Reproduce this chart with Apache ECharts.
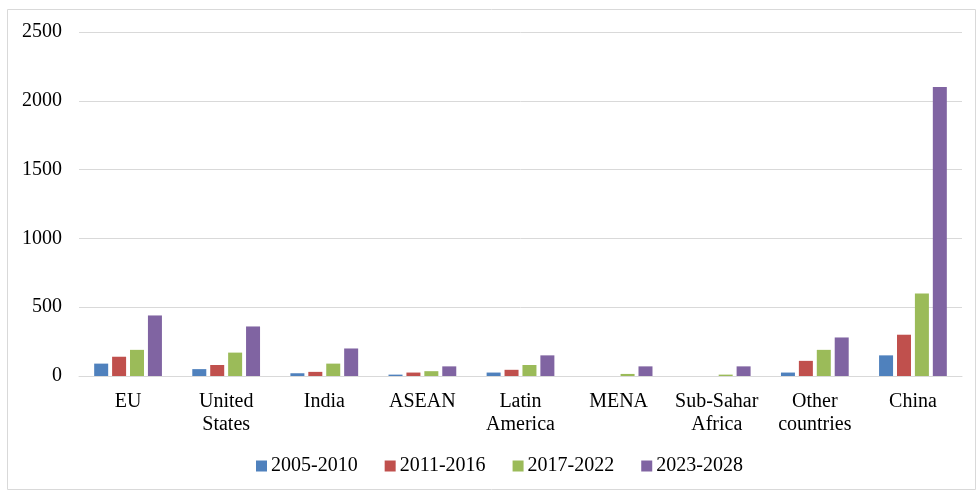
<!DOCTYPE html>
<html>
<head>
<meta charset="utf-8">
<script src="https://cdn.jsdelivr.net/npm/echarts@6/dist/echarts.min.js"></script>
<style>
  html, body { margin: 0; padding: 0; background: #fff; }
  #chart { width: 977px; height: 490px; }
</style>
</head>
<body>
<div id="chart"></div>
<script>
// 区域
var regions = ['EU', 'United\nStates', 'India', 'ASEAN', 'Latin\nAmerica', 'MENA', 'Sub-Sahar\nAfrica', 'Other\ncountries', 'China'];
var periods = ['2005-2010', '2011-2016', '2017-2022', '2023-2028'];

// 各时期数值
var p2005 = [90, 50, 20, 10, 25, 0, 0, 25, 150];
var p2011 = [140, 80, 30, 25, 45, 0, 0, 110, 300];
var p2017 = [190, 170, 90, 35, 80, 15, 10, 190, 600];
var p2023 = [440, 360, 200, 70, 150, 70, 70, 280, 2100];

var colors = ['#4F81BD', '#C0504D', '#9BBB59', '#8064A2'];
var seriesData = [p2005, p2011, p2017, p2023];

var font = '"Liberation Serif", "Times New Roman", serif';

var myChart = echarts.init(document.getElementById('chart'));

var option = {
    animation: false,
    textStyle: { fontFamily: font },
    graphic: [{
        type: 'rect',
        shape: { x: 7.5, y: 9.5, width: 968, height: 480 },
        style: { fill: 'none', stroke: '#d9d9d9', lineWidth: 1 },
        silent: true
    }],
    legend: {
        bottom: 9,
        left: 251,
        itemWidth: 11,
        itemHeight: 11,
        itemGap: 27,
        icon: 'rect',
        textStyle: { fontFamily: font, fontSize: 20, color: '#000', padding: [0, 0, 0, -1] },
        data: periods
    },
    grid: { left: 79, right: 15, top: 32, bottom: 114 },
    xAxis: {
        type: 'category',
        data: regions,
        axisLine: { lineStyle: { color: '#d9d9d9' } },
        axisTick: { show: false },
        axisLabel: { color: '#000', fontSize: 20, fontFamily: font, lineHeight: 23, margin: 14, interval: 0 }
    },
    yAxis: {
        type: 'value',
        min: 0,
        max: 2500,
        interval: 500,
        axisLine: { show: false },
        axisTick: { show: false },
        axisLabel: { color: '#000', fontSize: 20, fontFamily: font, margin: 17, formatter: function (v) { return String(v); } },
        splitLine: { lineStyle: { color: '#d9d9d9' } }
    },
    series: periods.map(function (name, i) {
        return {
            name: name,
            type: 'bar',
            data: seriesData[i],
            barWidth: 14,
            barGap: '28%',
            itemStyle: { color: colors[i] }
        };
    })
};

myChart.setOption(option);
</script>
</body>
</html>
